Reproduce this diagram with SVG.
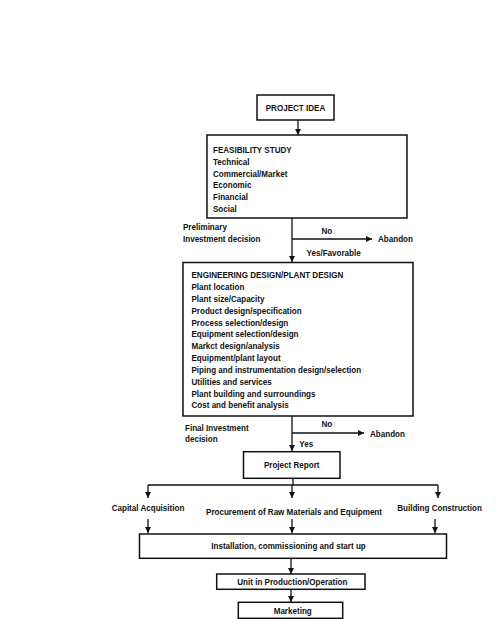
<svg xmlns="http://www.w3.org/2000/svg" width="497" height="619" viewBox="0 0 497 619">
<style>
.box{fill:#fff;stroke:#111;stroke-width:1.5}
.ln{fill:none;stroke:#111;stroke-width:1.3}
.t{font-family:"Liberation Sans",Arial,sans-serif;font-weight:bold;font-size:9.5px;fill:#111}
.c{text-anchor:middle}
</style>
<defs>
<marker id="ah" markerUnits="userSpaceOnUse" markerWidth="8" markerHeight="8" refX="6" refY="3" orient="auto">
<path d="M0,0 L6,3 L0,6 Z" fill="#111"/>
</marker>
</defs>
<rect width="497" height="619" fill="#fff"/>
<g id="connectors">
<line class="ln" x1="298" y1="120" x2="298" y2="135" marker-end="url(#ah)"/>
<line class="ln" x1="292" y1="218" x2="292" y2="262" marker-end="url(#ah)"/>
<line class="ln" x1="292" y1="239" x2="372" y2="239" marker-end="url(#ah)"/>
<line class="ln" x1="292" y1="416" x2="292" y2="451" marker-end="url(#ah)"/>
<line class="ln" x1="292" y1="433" x2="364" y2="433" marker-end="url(#ah)"/>
<line class="ln" x1="293" y1="478" x2="293" y2="485"/>
<line class="ln" x1="148" y1="485" x2="438" y2="485"/>
<line class="ln" x1="148" y1="485" x2="148" y2="498" marker-end="url(#ah)"/>
<line class="ln" x1="292" y1="485" x2="292" y2="498" marker-end="url(#ah)"/>
<line class="ln" x1="438" y1="485" x2="438" y2="498" marker-end="url(#ah)"/>
<line class="ln" x1="148" y1="519" x2="148" y2="533" marker-end="url(#ah)"/>
<line class="ln" x1="292" y1="519" x2="292" y2="533" marker-end="url(#ah)"/>
<line class="ln" x1="435" y1="519" x2="435" y2="533" marker-end="url(#ah)"/>
<line class="ln" x1="291" y1="558" x2="291" y2="574" marker-end="url(#ah)"/>
<line class="ln" x1="291" y1="589" x2="291" y2="602" marker-end="url(#ah)"/>
</g>
<g id="project-idea">
<rect class="box" x="257" y="95" width="77" height="25"/>
<g transform="translate(295.5,111) scale(0.85,1)"><text class="t c" x="0" y="0">PROJECT IDEA</text></g>
</g>
<g id="feasibility">
<rect class="box" x="207" y="135" width="200" height="83"/>
<g transform="translate(213,0) scale(0.85,1)">
<text class="t" x="0" y="153">FEASIBILITY STUDY</text>
<text class="t" x="0" y="165">Technical</text>
<text class="t" x="0" y="177">Commercial/Market</text>
<text class="t" x="0" y="188.5">Economic</text>
<text class="t" x="0" y="200">Financial</text>
<text class="t" x="0" y="212">Social</text>
</g>
</g>
<g id="decision1">
<g transform="translate(183,0) scale(0.85,1)">
<text class="t" x="0" y="230">Preliminary</text>
<text class="t" x="0" y="242">Investment decision</text>
</g>
<g transform="translate(321.5,0) scale(0.85,1)"><text class="t" x="0" y="234">No</text></g>
<g transform="translate(378,0) scale(0.85,1)"><text class="t" x="0" y="242">Abandon</text></g>
<g transform="translate(306.5,0) scale(0.85,1)"><text class="t" x="0" y="256.5">Yes/Favorable</text></g>
</g>
<g id="engineering">
<rect class="box" x="183" y="262.5" width="230" height="153.5"/>
<g transform="translate(191.5,0) scale(0.85,1)">
<text class="t" x="0" y="278.5">ENGINEERING DESIGN/PLANT DESIGN</text>
<text class="t" x="0" y="290.5">Plant location</text>
<text class="t" x="0" y="302.3">Plant size/Capacity</text>
<text class="t" x="0" y="314">Product design/specification</text>
<text class="t" x="0" y="325.7">Process selection/design</text>
<text class="t" x="0" y="337.4">Equipment selection/design</text>
<text class="t" x="0" y="349.2">Markct design/analysis</text>
<text class="t" x="0" y="361">Equipment/plant layout</text>
<text class="t" x="0" y="372.7">Piping and instrumentation design/selection</text>
<text class="t" x="0" y="384.8">Utilities and services</text>
<text class="t" x="0" y="396.6">Plant building and surroundings</text>
<text class="t" x="0" y="408.3">Cost and benefit analysis</text>
</g>
</g>
<g id="decision2">
<g transform="translate(185,0) scale(0.85,1)">
<text class="t" x="0" y="430.7">Final Investment</text>
<text class="t" x="0" y="442.3">decision</text>
</g>
<g transform="translate(321.5,0) scale(0.85,1)"><text class="t" x="0" y="427.3">No</text></g>
<g transform="translate(370,0) scale(0.85,1)"><text class="t" x="0" y="436.7">Abandon</text></g>
<g transform="translate(299.3,0) scale(0.85,1)"><text class="t" x="0" y="446.7">Yes</text></g>
</g>
<g id="project-report">
<rect class="box" x="243.5" y="451.7" width="96.5" height="26.6"/>
<g transform="translate(291.7,468.3) scale(0.85,1)"><text class="t c" x="0" y="0">Project Report</text></g>
</g>
<g id="capital-acquisition">
<g transform="translate(148,510.7) scale(0.85,1)"><text class="t c" x="0" y="0">Capital Acquisition</text></g>
</g>
<g id="procurement">
<g transform="translate(294,515) scale(0.85,1)"><text class="t c" x="0" y="0">Procurement of Raw Materials and Equipment</text></g>
</g>
<g id="building-construction">
<g transform="translate(439.5,510.7) scale(0.85,1)"><text class="t c" x="0" y="0">Building Construction</text></g>
</g>
<g id="installation">
<rect class="box" x="139.5" y="534" width="307" height="24.3"/>
<g transform="translate(288.5,549) scale(0.85,1)"><text class="t c" x="0" y="0">Installation, commissioning and start up</text></g>
</g>
<g id="unit-production">
<rect class="box" x="216.7" y="574" width="148.3" height="15.3"/>
<g transform="translate(292.3,584.5) scale(0.85,1)"><text class="t c" x="0" y="0">Unit in Production/Operation</text></g>
</g>
<g id="marketing">
<rect class="box" x="238.3" y="602.3" width="104.4" height="16"/>
<g transform="translate(292.7,613.5) scale(0.85,1)"><text class="t c" x="0" y="0">Marketing</text></g>
</g>
</svg>
